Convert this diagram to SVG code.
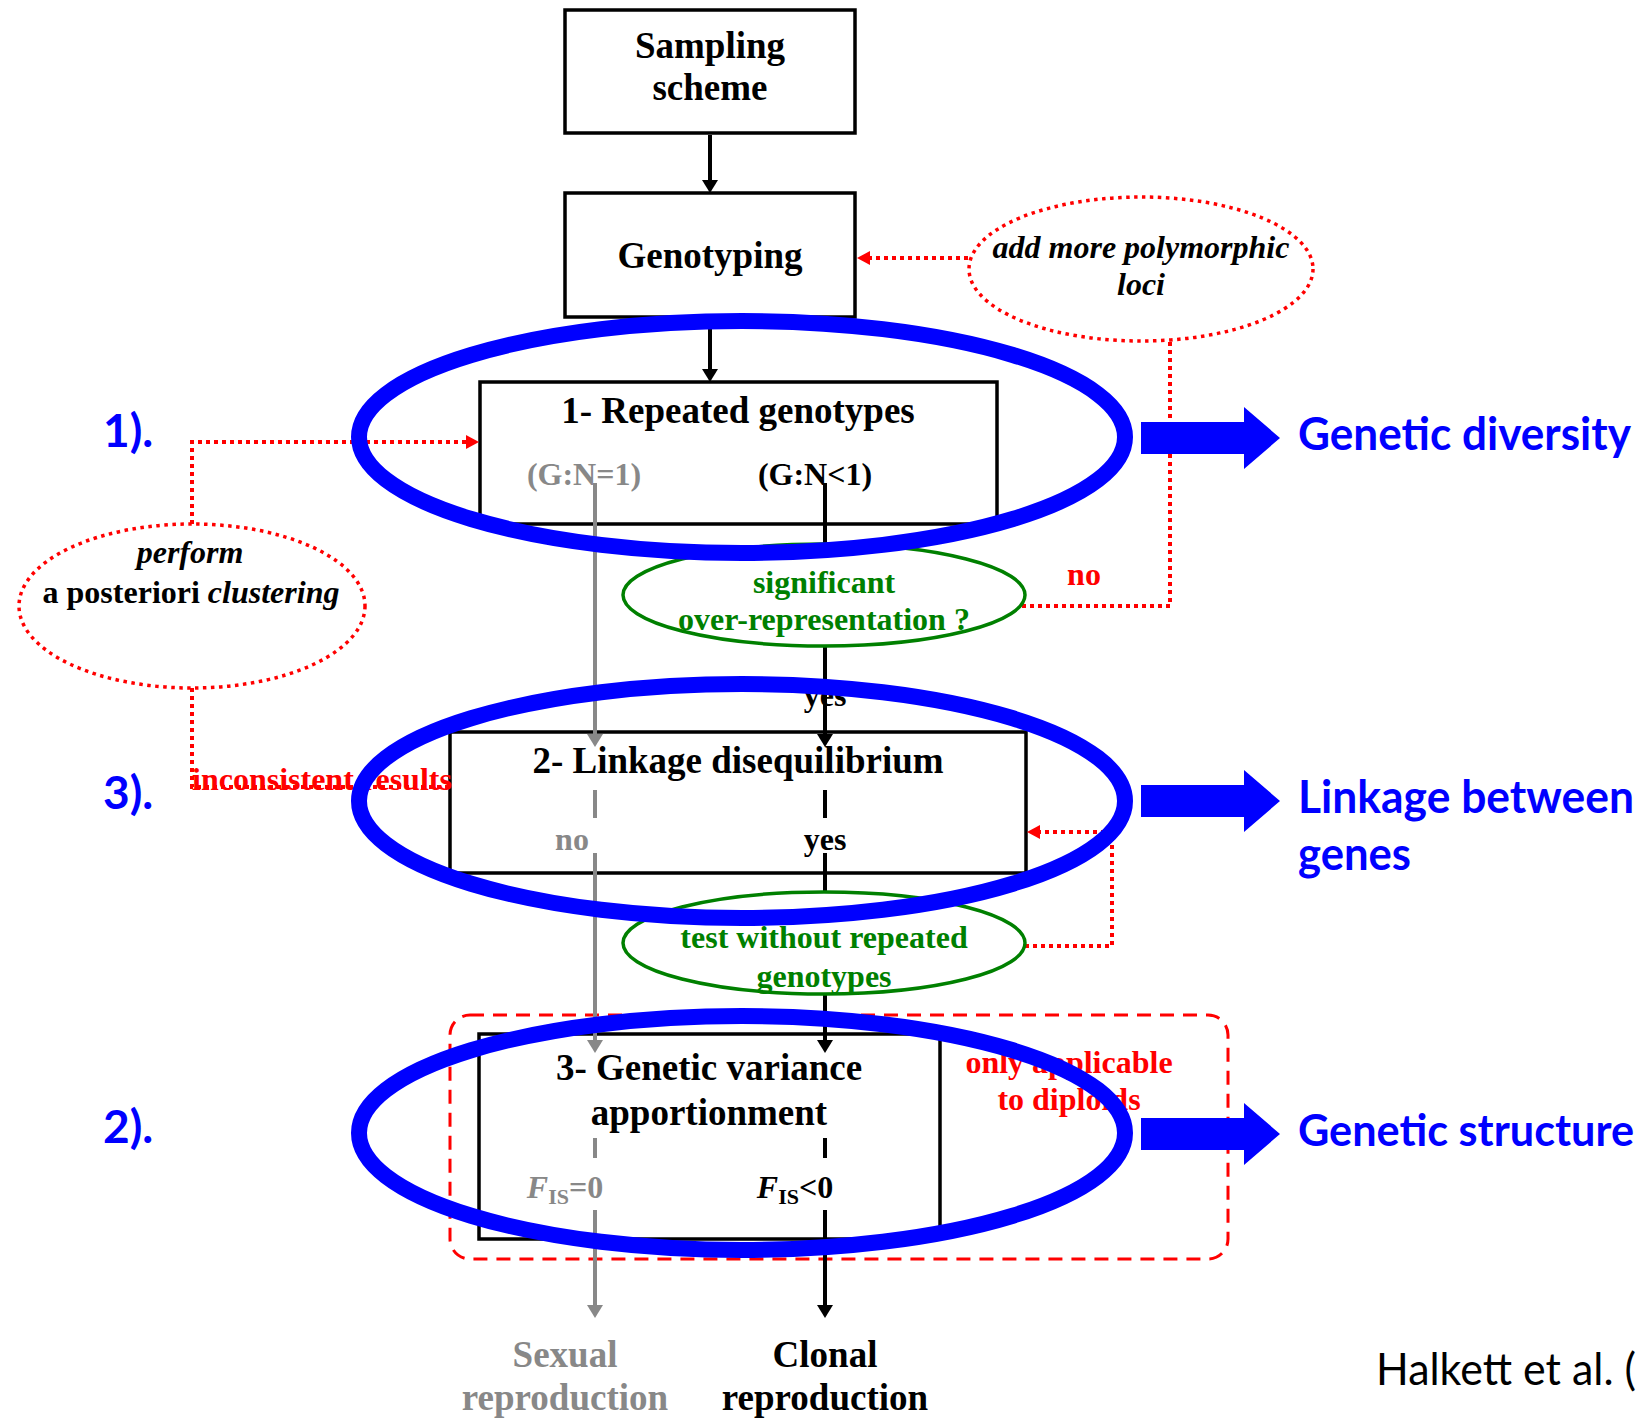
<svg xmlns="http://www.w3.org/2000/svg" width="1648" height="1418" viewBox="0 0 1648 1418">
<style>
.box{fill:#fff;stroke:#000;stroke-width:3.5}
.t{font-family:"Liberation Serif","Times New Roman",serif;font-weight:bold;text-anchor:middle}
.s37{font-size:37px}
.s32{font-size:32px}
.blk{fill:#000}
.gry{fill:#888}
.grn{fill:#008000}
.red{fill:#f00}
.it{font-style:italic}
.bl{fill:none;stroke:#00f;stroke-width:16}
.barrow{fill:#00f}
.bt{font-family:Lato,"Open Sans",sans-serif;font-weight:bold;fill:#00f;font-size:46px}
.cl{stroke:#000;stroke-width:4;fill:none}
.cg{stroke:#888;stroke-width:4;fill:none}
.dot{fill:none;stroke:#f00;stroke-width:4;stroke-dasharray:4 4}
.dell{fill:#fff;stroke:#f00;stroke-width:3.5;stroke-dasharray:3.5 4.5}
.gell{fill:#fff;stroke:#008000;stroke-width:3.5}
.dash{fill:none;stroke:#f00;stroke-width:3;stroke-dasharray:14 9}
</style>
<defs>
<marker id="ab" viewBox="0 0 13 16" refX="6" refY="8" markerWidth="13" markerHeight="16" markerUnits="userSpaceOnUse" orient="auto"><path d="M0,0 L13,8 L0,16 z" fill="#000"/></marker>
<marker id="ag" viewBox="0 0 13 16" refX="6" refY="8" markerWidth="13" markerHeight="16" markerUnits="userSpaceOnUse" orient="auto"><path d="M0,0 L13,8 L0,16 z" fill="#888"/></marker>
<marker id="ar" viewBox="0 0 13 14" refX="6" refY="7" markerWidth="13" markerHeight="14" markerUnits="userSpaceOnUse" orient="auto"><path d="M0,0 L13,7 L0,14 z" fill="#f00"/></marker>
</defs>

<rect id="diploid-frame" class="dash" x="450" y="1015" width="778" height="244" rx="20" ry="20"/>

<g id="sampling"><rect class="box" x="565" y="10" width="290" height="123"/>
<text class="t s37 blk" x="710" y="58">Sampling</text><text class="t s37 blk" x="710" y="100">scheme</text></g>

<g id="genotyping"><rect class="box" x="565" y="193" width="290" height="124"/>
<text class="t s37 blk" x="710" y="268">Genotyping</text></g>

<g id="repeated"><rect class="box" x="480" y="382" width="517" height="142"/>
<text class="t s37 blk" x="738" y="423">1- Repeated genotypes</text></g>

<g id="linkage"><rect class="box" x="450" y="732" width="576" height="141"/>
<text class="t s37 blk" x="738" y="773">2- Linkage disequilibrium</text></g>

<g id="variance"><rect class="box" x="479" y="1034" width="461" height="205"/>
<text class="t s37 blk" x="709" y="1080">3- Genetic variance</text>
<text class="t s37 blk" x="709" y="1125">apportionment</text></g>

<g id="connectors">
<line class="cl" x1="710" y1="135" x2="710" y2="186" marker-end="url(#ab)"/>
<line class="cl" x1="710" y1="319" x2="710" y2="375" marker-end="url(#ab)"/>
<line class="cg" x1="595" y1="483" x2="595" y2="740" marker-end="url(#ag)"/>
<line class="cl" x1="825" y1="483" x2="825" y2="545"/>
<line class="cl" x1="825" y1="645" x2="825" y2="740" marker-end="url(#ab)"/>
<line class="cg" x1="595" y1="790" x2="595" y2="818"/>
<line class="cl" x1="825" y1="790" x2="825" y2="818"/>
<line class="cg" x1="595" y1="853" x2="595" y2="1046" marker-end="url(#ag)"/>
<line class="cl" x1="825" y1="853" x2="825" y2="893"/>
<line class="cl" x1="825" y1="993" x2="825" y2="1046" marker-end="url(#ab)"/>
<line class="cg" x1="595" y1="1138" x2="595" y2="1158"/>
<line class="cl" x1="825" y1="1138" x2="825" y2="1158"/>
<line class="cg" x1="595" y1="1210" x2="595" y2="1311" marker-end="url(#ag)"/>
<line class="cl" x1="825" y1="1210" x2="825" y2="1311" marker-end="url(#ab)"/>
<path class="dot" d="M968,258 L864,258" marker-end="url(#ar)"/>
<path class="dot" d="M1170,342 L1170,606 L1022,606"/>
<path class="dot" d="M1025,946 L1112,946 L1112,832 L1034,832" marker-end="url(#ar)"/>
<path class="dot" d="M192,524 L192,442 L472,442" marker-end="url(#ar)"/>
<path class="dot" d="M192,688 L192,787 L450,787"/>
</g>

<g id="add-loci"><ellipse class="dell" cx="1141" cy="269" rx="172" ry="72"/>
<text class="t s32 blk it" x="1141" y="258">add more polymorphic</text>
<text class="t s32 blk it" x="1141" y="295">loci</text></g>

<g id="clustering"><ellipse class="dell" cx="192" cy="606" rx="173" ry="82"/>
<text class="t s32 blk it" x="190" y="563">perform</text>
<text class="t s32 blk" x="191" y="603">a posteriori <tspan class="it">clustering</tspan></text></g>

<g id="overrep"><ellipse class="gell" cx="824" cy="595" rx="201" ry="51"/>
<text class="t s32 grn" x="824" y="593">significant</text>
<text class="t s32 grn" x="824" y="630">over-representation ?</text></g>

<g id="test-without"><ellipse class="gell" cx="824" cy="943" rx="201" ry="51"/>
<text class="t s32 grn" x="824" y="948">test without repeated</text>
<text class="t s32 grn" x="824" y="987">genotypes</text></g>

<g id="labels">
<text class="t s32 gry" x="584" y="485">(G:N=1)</text>
<text class="t s32 blk" x="815" y="485">(G:N&lt;1)</text>
<text class="t s32 red" x="1084" y="585">no</text>
<text class="t s32 blk" x="825" y="706">yes</text>
<text class="t s32 gry" x="572" y="850">no</text>
<text class="t s32 blk" x="825" y="850">yes</text>
<text class="t s32 gry" x="565" y="1198"><tspan class="it">F</tspan><tspan font-size="22" dy="6">IS</tspan><tspan dy="-6">=0</tspan></text>
<text class="t s32 blk" x="795" y="1198"><tspan class="it">F</tspan><tspan font-size="22" dy="6">IS</tspan><tspan dy="-6">&lt;0</tspan></text>
<text class="t s32 red" x="1069" y="1073">only applicable</text>
<text class="t s32 red" x="1069" y="1110">to diploids</text>
<text class="t s32 red" x="192" y="790" style="text-anchor:start">inconsistent results</text>
<text class="t s37 gry" x="565" y="1367">Sexual</text>
<text class="t s37 gry" x="565" y="1410">reproduction</text>
<text class="t s37 blk" x="825" y="1367">Clonal</text>
<text class="t s37 blk" x="825" y="1410">reproduction</text>
</g>

<g id="blue-ellipses">
<ellipse class="bl" cx="742" cy="437" rx="383" ry="116"/>
<ellipse class="bl" cx="742" cy="801" rx="383" ry="117"/>
<ellipse class="bl" cx="742" cy="1133" rx="383" ry="117"/>
</g>

<g id="outcomes">
<polygon class="barrow" points="1141,422 1244,422 1244,407 1280,438 1244,469 1244,454 1141,454"/>
<polygon class="barrow" points="1141,785 1244,785 1244,770 1280,801 1244,832 1244,817 1141,817"/>
<polygon class="barrow" points="1141,1118 1244,1118 1244,1103 1280,1134 1244,1165 1244,1150 1141,1150"/>
<text class="bt" x="1298" y="450" textLength="333" lengthAdjust="spacingAndGlyphs">Genetic diversity</text>
<text class="bt" x="1298" y="813" textLength="336" lengthAdjust="spacingAndGlyphs">Linkage between</text>
<text class="bt" x="1298" y="870" textLength="113" lengthAdjust="spacingAndGlyphs">genes</text>
<text class="bt" x="1298" y="1146" font-size="44" style="font-size:44px" textLength="336" lengthAdjust="spacingAndGlyphs">Genetic structure</text>
<text class="bt" x="103" y="447">1).</text>
<text class="bt" x="103" y="809">3).</text>
<text class="bt" x="103" y="1143">2).</text>
<text x="1376" y="1385" font-family="Lato,'Open Sans',sans-serif" font-size="44" fill="#000" textLength="260" lengthAdjust="spacingAndGlyphs">Halkett et al. (</text>
</g>
</svg>
